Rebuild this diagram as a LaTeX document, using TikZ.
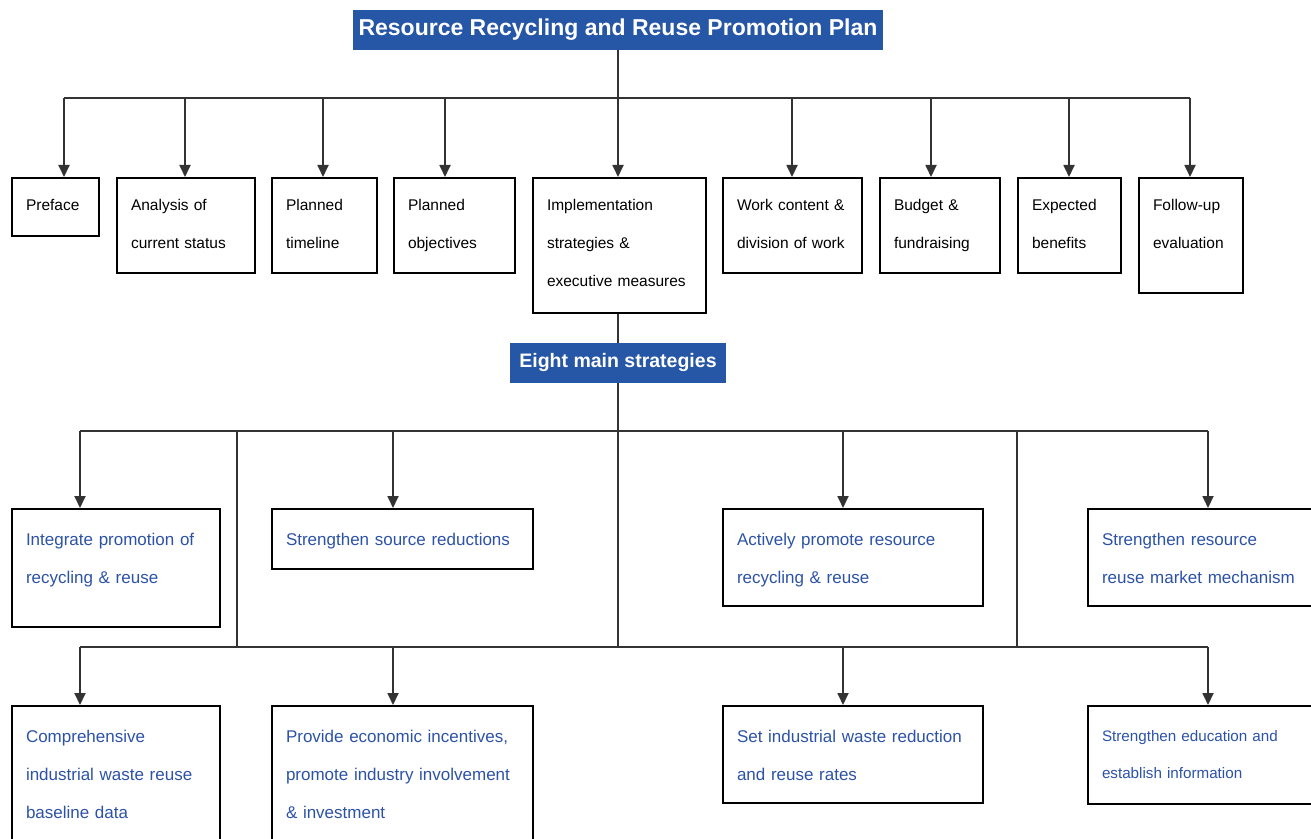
\documentclass[tikz,border=0pt]{standalone}
\usepackage{fontspec}
\setmainfont{Liberation Sans}
\usetikzlibrary{arrows.meta}
\definecolor{planblue}{RGB}{38,86,166}
\definecolor{itemblue}{RGB}{44,82,168}

\begin{document}
\begin{tikzpicture}[x=0.5pt,y=-0.5pt,
    head/.style={fill=planblue, text=white, inner sep=0pt, minimum height=20pt,
      font=\bfseries\fontsize{11.5pt}{13pt}\selectfont},
    part/.style={draw, line width=1pt, anchor=north west, align=left,
      inner xsep=7pt, inner ysep=0pt, text height=16.5pt,
      font=\fontsize{7.75pt}{19pt}\selectfont},
    strat/.style={part, text=itemblue, text height=18pt,
      font=\fontsize{8.5pt}{19pt}\selectfont},
    line/.style={draw=black!80, line width=0.9pt},
    arr/.style={line, -{Triangle[length=6pt,width=5.5pt]}}]
  \useasboundingbox (0,0) rectangle (1311,839);
  \clip (0,0) rectangle (1311,839);

  % plan and its parts
  \node[head, minimum width=265pt] (title) at (618,30) {Resource Recycling and Reuse Promotion Plan};
  \node[part, text width=29.5pt, text depth=12.5pt] (pref) at (11,177)   {Preface};
  \node[part, text width=55pt, text depth=31pt]     (anal) at (116,177)  {Analysis of\\current status};
  \node[part, text width=38.5pt, text depth=31pt]   (time) at (271,177)  {Planned\\timeline};
  \node[part, text width=46.5pt, text depth=31pt]   (obj)  at (393,177)  {Planned\\objectives};
  \node[part, text width=72.5pt, text depth=51pt]   (impl) at (532,177)  {Implementation\\strategies \&\\executive measures};
  \node[part, text width=55.5pt, text depth=31pt]   (work) at (722,177)  {Work content \&\\division of work};
  \node[part, text width=46pt, text depth=31pt]     (budg) at (879,177)  {Budget \&\\fundraising};
  \node[part, text width=37.5pt, text depth=31pt]   (expe) at (1017,177) {Expected\\benefits};
  \node[part, text width=38pt, text depth=41pt]     (foll) at (1138,177) {Follow-up\\evaluation};

  \foreach \n/\x in {pref/64, anal/185, time/323, obj/445, impl/618, work/792, budg/931, expe/1069, foll/1190}
    \coordinate (\n-in) at (\x,98);
  \draw[line] (title.south) -- (impl-in);
  \draw[line] (pref-in) -- (foll-in);
  \foreach \n in {pref, anal, time, obj, impl, work, budg, expe, foll}
    \draw[arr] (\n-in) -- (\n-in |- \n.north);

  % eight strategies
  \node[head, minimum width=108pt, font=\bfseries\fontsize{9.75pt}{11pt}\selectfont] (eight) at (618,363) {Eight main strategies};
  \draw[line] (eight.north) -- (eight.north |- impl.south);

  \node[strat, text width=90pt, text depth=41pt]     (integ)  at (11,508)   {Integrate promotion of\\recycling \& reuse};
  \node[strat, text width=116.5pt, text depth=12pt]  (srcred) at (271,508)  {Strengthen source reductions};
  \node[strat, text width=116pt, text depth=30.5pt]  (activ)  at (722,508)  {Actively promote resource\\recycling \& reuse};
  \node[strat, text width=98.5pt, text depth=30.5pt] (mkt)    at (1087,508) {Strengthen resource\\reuse market mechanism};
  \node[strat, text width=90pt, text depth=57pt]     (base)   at (11,705)   {Comprehensive\\industrial waste reuse\\baseline data};
  \node[strat, text width=116.5pt, text depth=57pt]  (incent) at (271,705)  {Provide economic incentives,\\promote industry involvement\\\& investment};
  \node[strat, text width=116pt, text depth=30.5pt]  (rates)  at (722,705)  {Set industrial waste reduction\\and reuse rates};
  \node[strat, text width=98.5pt, text height=17.5pt, text depth=31.5pt,
    font=\fontsize{7.6pt}{18.5pt}\selectfont]        (educ)   at (1087,705) {Strengthen education and\\establish information};

  \foreach \n/\x/\y in {integ/80/431, srcred/393/431, activ/843/431, mkt/1208/431,
                        base/80/647, incent/393/647, rates/843/647, educ/1208/647}
    \coordinate (\n-in) at (\x,\y);
  \coordinate (linkl) at (237,431);
  \coordinate (linkr) at (1017,431);
  \draw[line] (integ-in) -- (mkt-in);
  \draw[line] (base-in) -- (educ-in);
  \draw[line] (eight.south) -- (eight.south |- base-in);
  \draw[line] (linkl) -- (linkl |- base-in);
  \draw[line] (linkr) -- (linkr |- base-in);
  \foreach \n in {integ, srcred, activ, mkt, base, incent, rates, educ}
    \draw[arr] (\n-in) -- (\n-in |- \n.north);
\end{tikzpicture}
\end{document}
